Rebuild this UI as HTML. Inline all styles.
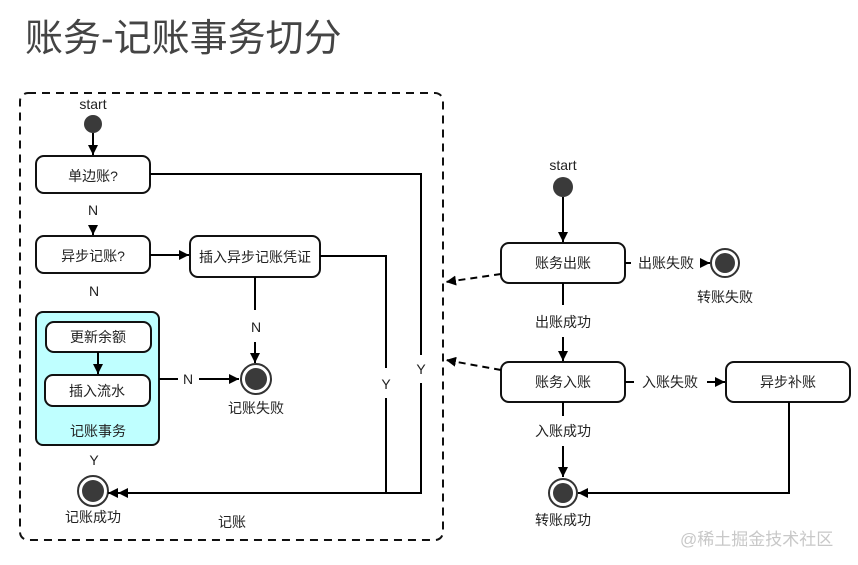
<!DOCTYPE html>
<html><head><meta charset="utf-8"><style>
html,body{margin:0;padding:0;background:#fff;width:858px;height:565px;overflow:hidden}
svg text{font-family:"Liberation Sans","Noto Sans CJK SC",sans-serif;fill:#222}
</style></head><body>
<svg width="858" height="565" viewBox="0 0 858 565" xmlns="http://www.w3.org/2000/svg">
<defs>
<marker id="a" viewBox="0 0 10 10" refX="10" refY="5" markerWidth="10" markerHeight="10" markerUnits="userSpaceOnUse" orient="auto"><path d="M0,0L10,5L0,10z" fill="#000"/></marker>
</defs>
<text x="25" y="51" font-size="38" style="fill:#444">账务-记账事务切分</text>
<rect x="20" y="93" width="423" height="447" rx="8" fill="none" stroke="#111" stroke-width="2" stroke-dasharray="8,6"/>
<g font-size="14" text-anchor="middle">
<text x="93" y="109">start</text>
<circle cx="93" cy="124" r="9" fill="#3a3a3a"/>
<line x1="93" y1="133" x2="93" y2="155" stroke="#000" stroke-width="2" marker-end="url(#a)"/>
<rect x="36" y="156" width="114" height="37" rx="8" fill="#fff" stroke="#111" stroke-width="2"/>
<text x="93" y="181">单边账?</text>
<text x="93" y="215">N</text>
<line x1="93" y1="225" x2="93" y2="235" stroke="#000" stroke-width="2" marker-end="url(#a)"/>
<rect x="36" y="236" width="114" height="37" rx="8" fill="#fff" stroke="#111" stroke-width="2"/>
<text x="93" y="261">异步记账?</text>
<line x1="150" y1="255" x2="189" y2="255" stroke="#000" stroke-width="2" marker-end="url(#a)"/>
<rect x="190" y="236" width="130" height="41" rx="8" fill="#fff" stroke="#111" stroke-width="2"/>
<text x="255" y="262">插入异步记账凭证</text>
<text x="94" y="296">N</text>
<rect x="36" y="312" width="123" height="133" rx="7" fill="#bfffff" stroke="#111" stroke-width="2"/>
<rect x="46" y="322" width="105" height="30" rx="8" fill="#fff" stroke="#111" stroke-width="2"/>
<text x="98" y="342">更新余额</text>
<line x1="98" y1="352" x2="98" y2="374" stroke="#000" stroke-width="2" marker-end="url(#a)"/>
<rect x="45" y="375" width="105" height="31" rx="8" fill="#fff" stroke="#111" stroke-width="2"/>
<text x="97" y="396">插入流水</text>
<text x="98" y="436">记账事务</text>
<text x="94" y="465">Y</text>
<circle cx="93" cy="491" r="15" fill="#fff" stroke="#333" stroke-width="2"/>
<circle cx="93" cy="491" r="11" fill="#3a3a3a"/>
<text x="93" y="522">记账成功</text>
<line x1="159" y1="379" x2="178" y2="379" stroke="#000" stroke-width="2"/>
<text x="188" y="384">N</text>
<line x1="199" y1="379" x2="239" y2="379" stroke="#000" stroke-width="2" marker-end="url(#a)"/>
<circle cx="256" cy="379" r="15" fill="#fff" stroke="#333" stroke-width="2"/>
<circle cx="256" cy="379" r="11" fill="#3a3a3a"/>
<text x="256" y="413">记账失败</text>
<line x1="255" y1="277" x2="255" y2="310" stroke="#000" stroke-width="2"/>
<text x="256" y="332">N</text>
<line x1="255" y1="342" x2="255" y2="363" stroke="#000" stroke-width="2" marker-end="url(#a)"/>
<polyline points="150,174 421,174 421,355" fill="none" stroke="#000" stroke-width="2"/>
<text x="421" y="374">Y</text>
<polyline points="421,383 421,493 108,493" fill="none" stroke="#000" stroke-width="2" marker-end="url(#a)"/>
<polyline points="320,256 386,256 386,368" fill="none" stroke="#000" stroke-width="2"/>
<text x="386" y="389">Y</text>
<polyline points="386,398 386,493 118,493" fill="none" stroke="#000" stroke-width="2" marker-end="url(#a)"/>
<text x="232" y="527">记账</text>

<text x="563" y="170">start</text>
<circle cx="563" cy="187" r="10" fill="#3a3a3a"/>
<line x1="563" y1="197" x2="563" y2="242" stroke="#000" stroke-width="2" marker-end="url(#a)"/>
<rect x="501" y="243" width="124" height="40" rx="8" fill="#fff" stroke="#111" stroke-width="2"/>
<text x="563" y="268">账务出账</text>
<line x1="625" y1="263" x2="631" y2="263" stroke="#000" stroke-width="2"/>
<text x="666" y="268">出账失败</text>
<line x1="700" y1="263" x2="710" y2="263" stroke="#000" stroke-width="2" marker-end="url(#a)"/>
<circle cx="725" cy="263" r="14" fill="#fff" stroke="#333" stroke-width="2"/>
<circle cx="725" cy="263" r="10" fill="#3a3a3a"/>
<text x="725" y="302">转账失败</text>
<line x1="563" y1="283" x2="563" y2="305" stroke="#000" stroke-width="2"/>
<text x="563" y="327">出账成功</text>
<line x1="563" y1="337" x2="563" y2="361" stroke="#000" stroke-width="2" marker-end="url(#a)"/>
<rect x="501" y="362" width="124" height="40" rx="8" fill="#fff" stroke="#111" stroke-width="2"/>
<text x="563" y="387">账务入账</text>
<line x1="625" y1="382" x2="634" y2="382" stroke="#000" stroke-width="2"/>
<text x="670" y="387">入账失败</text>
<line x1="707" y1="382" x2="725" y2="382" stroke="#000" stroke-width="2" marker-end="url(#a)"/>
<rect x="726" y="362" width="124" height="40" rx="8" fill="#fff" stroke="#111" stroke-width="2"/>
<text x="788" y="387">异步补账</text>
<line x1="563" y1="402" x2="563" y2="416" stroke="#000" stroke-width="2"/>
<text x="563" y="436">入账成功</text>
<line x1="563" y1="446" x2="563" y2="477" stroke="#000" stroke-width="2" marker-end="url(#a)"/>
<circle cx="563" cy="493" r="14" fill="#fff" stroke="#333" stroke-width="2"/>
<circle cx="563" cy="493" r="10" fill="#3a3a3a"/>
<text x="563" y="525">转账成功</text>
<polyline points="789,402 789,493 578,493" fill="none" stroke="#000" stroke-width="2" marker-end="url(#a)"/>
<line x1="501" y1="274" x2="446" y2="282" stroke="#000" stroke-width="2" stroke-dasharray="7,5" marker-end="url(#a)"/>
<line x1="501" y1="370" x2="446" y2="360" stroke="#000" stroke-width="2" stroke-dasharray="7,5" marker-end="url(#a)"/>
</g>
<text x="680" y="545" font-size="17" style="fill:#c8c8c8">@稀土掘金技术社区</text>
</svg>
</body></html>
